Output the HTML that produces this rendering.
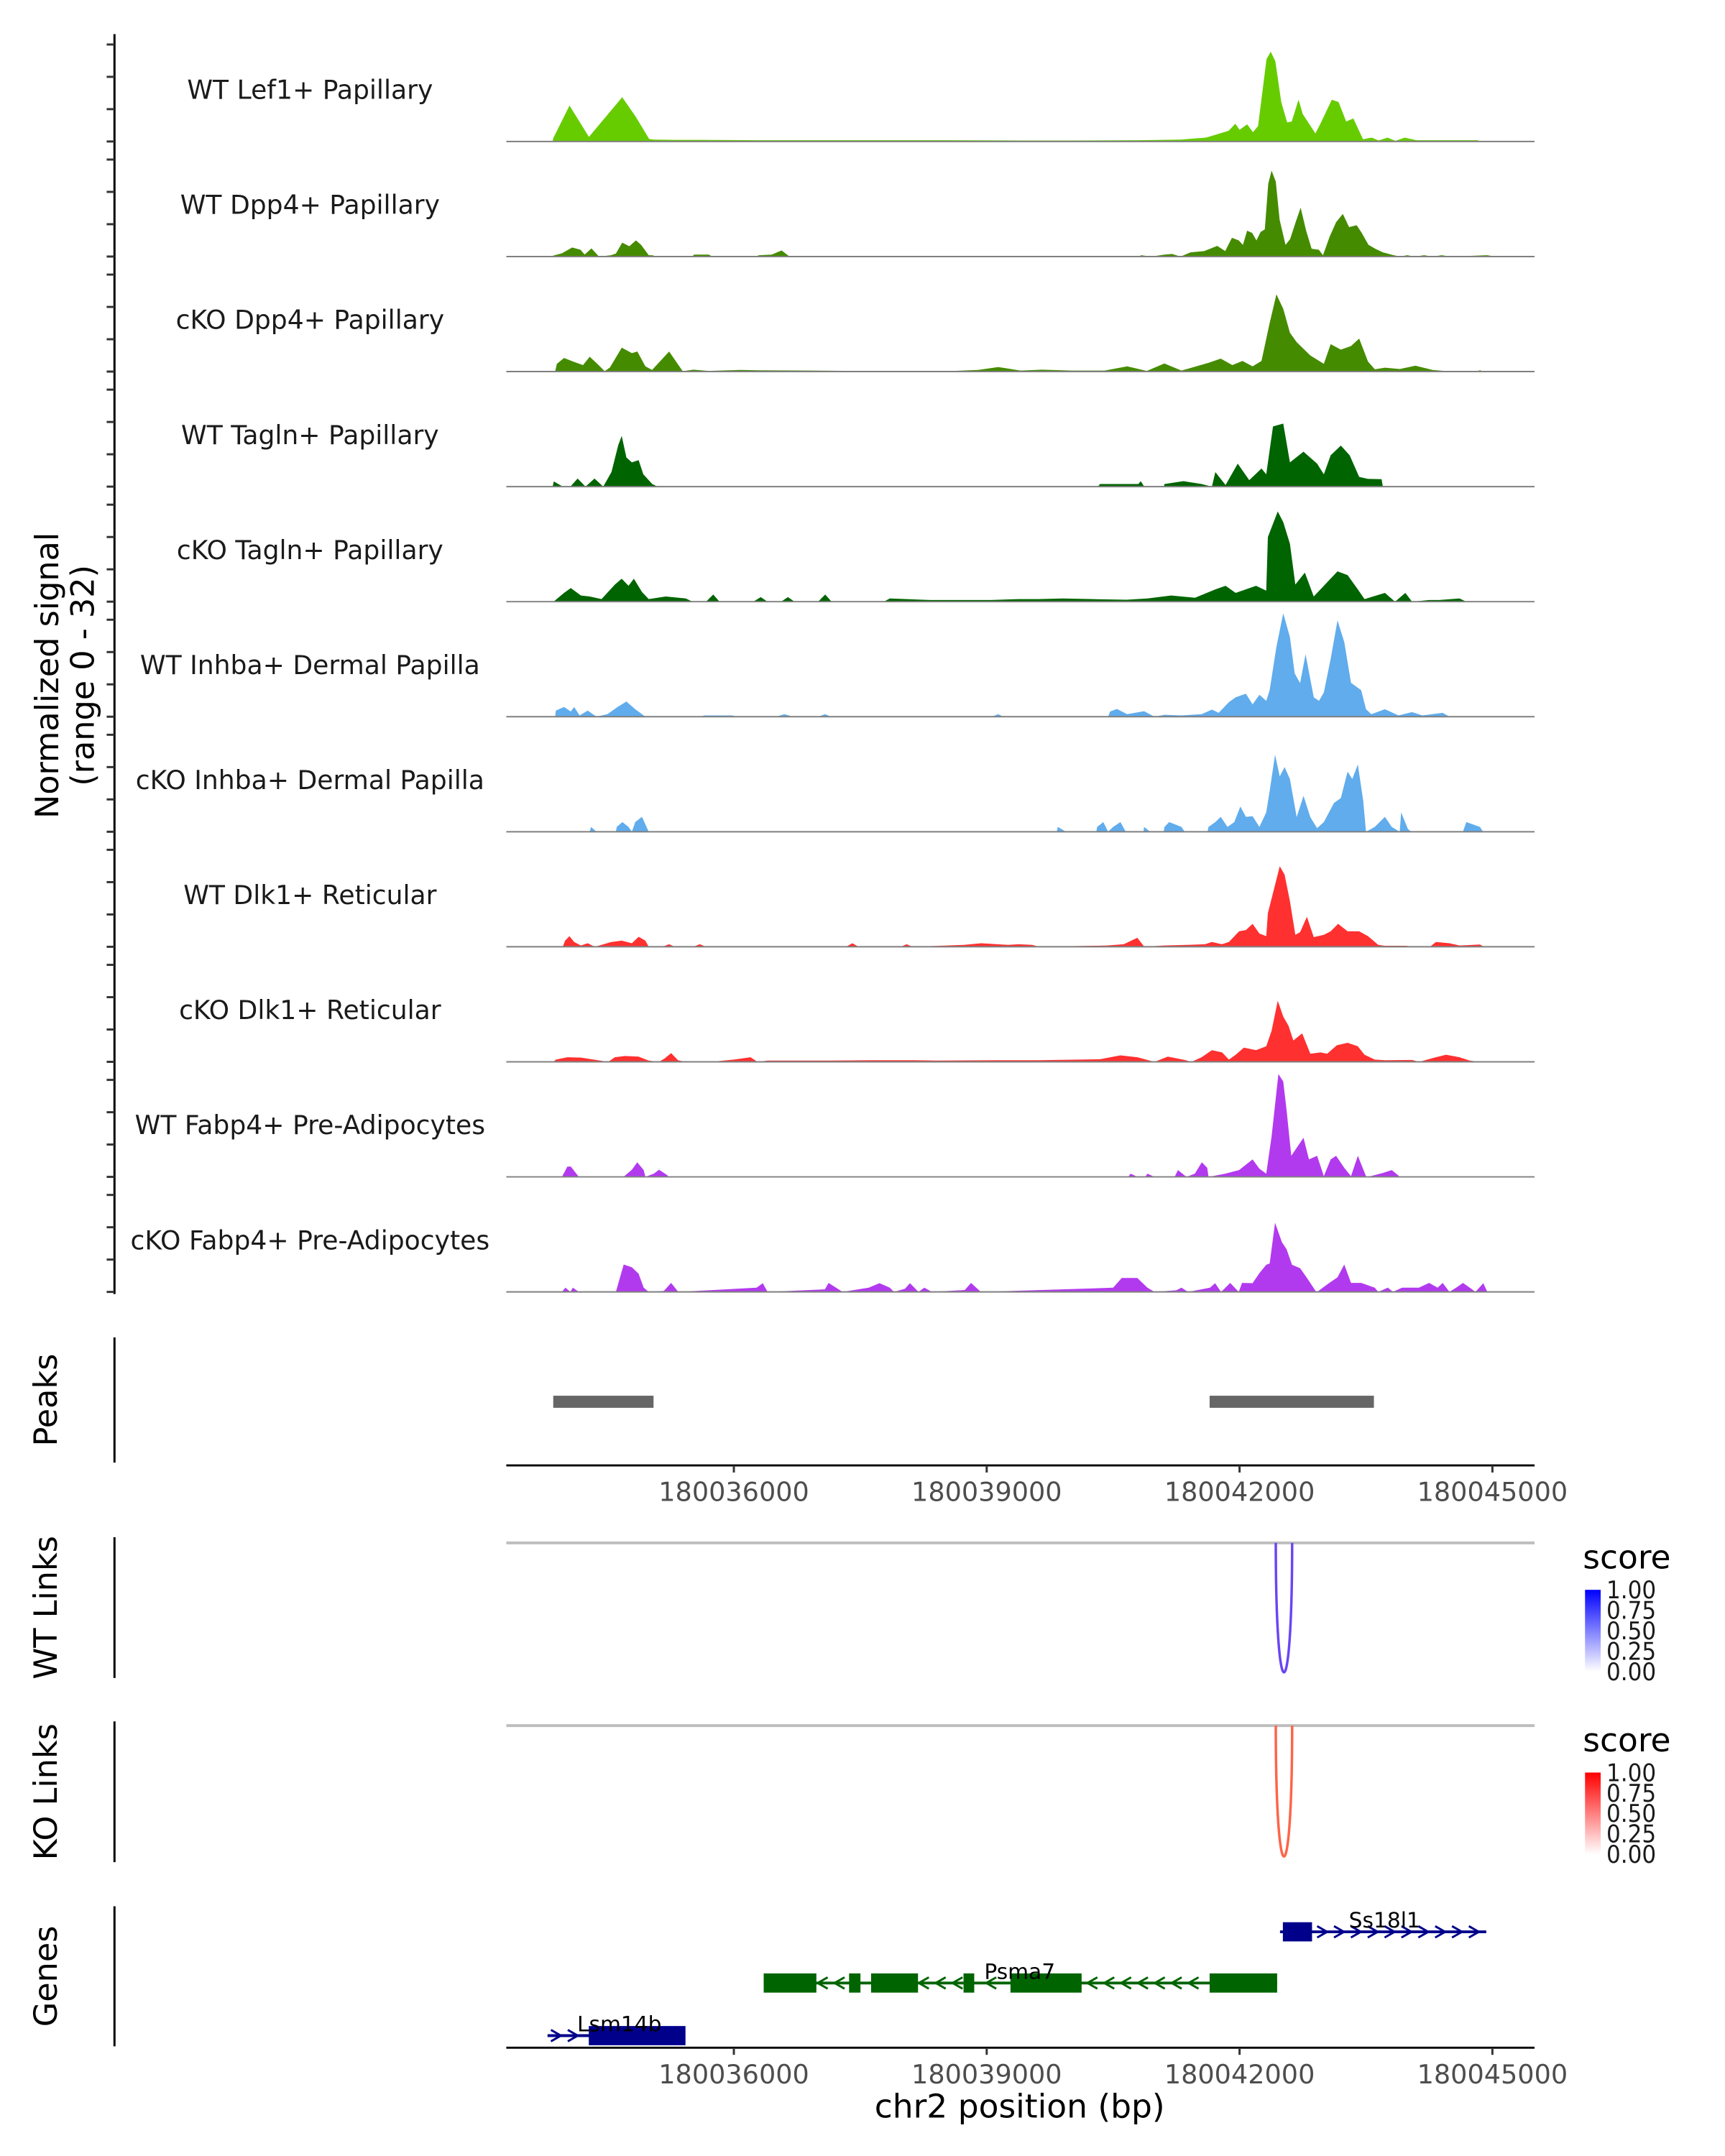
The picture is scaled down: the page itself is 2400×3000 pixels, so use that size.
<!DOCTYPE html>
<html><head><meta charset="utf-8"><style>
html,body{margin:0;padding:0;background:#fff;}
svg{display:block;font-family:"DejaVu Sans","Liberation Sans",sans-serif;}
</style></head><body>
<svg id="chart" width="2400" height="3000" viewBox="0 0 2400 3000" xmlns="http://www.w3.org/2000/svg">
<defs>
<linearGradient id="gradWT" x1="0" y1="1" x2="0" y2="0"><stop offset="0" stop-color="#ffffff"/><stop offset="1" stop-color="#0000ff"/></linearGradient>
<linearGradient id="gradKO" x1="0" y1="1" x2="0" y2="0"><stop offset="0" stop-color="#ffffff"/><stop offset="1" stop-color="#ff0000"/></linearGradient>
</defs>
<g id="root" transform="scale(0.98935)">
<g id="tracks"></g>
<g id="left-axis"></g>
<text transform="translate(82,950) rotate(-90)" text-anchor="middle" font-size="45" fill="#000">Normalized signal</text>
<text transform="translate(132,950) rotate(-90)" text-anchor="middle" font-size="45" fill="#000">(range 0 - 32)</text>
<g id="peaks"></g>
<g id="links"></g>
<g id="genes"></g>
</g>
</svg>
<script>
// ---- data ----
const regionStart = 180033300;
const regionEnd = 180045500;
const baseBp = 180000000;
const trackNames = ["WT Lef1+ Papillary","WT Dpp4+ Papillary","cKO Dpp4+ Papillary","WT Tagln+ Papillary","cKO Tagln+ Papillary","WT Inhba+ Dermal Papilla","cKO Inhba+ Dermal Papilla","WT Dlk1+ Reticular","cKO Dlk1+ Reticular","WT Fabp4+ Pre-Adipocytes","cKO Fabp4+ Pre-Adipocytes"];
const trackColors = ["#66cc00","#458b00","#458b00","#006400","#006400","#60acec","#60acec","#ff3030","#ff3030","#b23aee","#b23aee"];
const yMax = 32;
const xTicks = [180036000,180039000,180042000,180045000];
const yTickValues = [0,10,20,30];

const wtLef1 = [[33850,0],[33857,1],[34050,11.1],[34280,1.4],[34675,13.7],[34835,7.7],[34995,0.8],[35050,0.6],[35300,0.5],[35600,0.5],[36300,0.4],[36700,0.4],[37500,0.4],[38500,0.4],[39400,0.3],[40000,0.3],[40792,0.4],[41300,0.6],[41602,1.2],[41870,3.3],[41950,5.5],[42000,3.6],[42090,5.3],[42160,2.9],[42220,4.8],[42320,25.5],[42370,27.8],[42425,24.8],[42495,12.2],[42565,5.9],[42620,6.2],[42700,12.9],[42750,8.5],[42900,2.5],[42960,5.5],[43095,12.9],[43175,12.2],[43265,6.2],[43350,7.1],[43465,0.7],[43570,1.2],[43650,0.3],[43755,1.2],[43850,0.2],[43960,1.2],[44100,0.4],[44830,0.4],[44840,0]];
const wtDpp4 = [[33850,0],[33857,0.3],[33960,1],[34081,2.8],[34180,2.1],[34230,0.6],[34310,2.5],[34400,0],[34540,0.4],[34600,0.9],[34675,4.3],[34760,3.2],[34838,5],[34900,3.6],[34990,0.4],[35028,0.4],[35100,0],[35500,0],[35531,0.6],[35700,0.6],[35750,0],[36250,0],[36300,0.4],[36450,0.6],[36566,1.9],[36640,0.4],[36660,0],[40800,0],[40835,0.4],[40950,0],[41110,0.6],[41200,0.8],[41300,0],[41420,1.3],[41580,1.7],[41735,3.3],[41830,1.7],[41870,3.8],[41910,5.8],[41990,5],[42040,3.6],[42090,8],[42150,7.3],[42200,5],[42250,7.6],[42300,8.4],[42340,22.5],[42380,26.6],[42430,23.2],[42475,11.4],[42545,3.6],[42600,5.4],[42665,10.6],[42725,15.1],[42790,8],[42855,2.4],[42940,2.1],[42990,0.4],[43070,6.2],[43145,10.6],[43225,13.2],[43300,9.1],[43390,9.7],[43450,7.3],[43530,3.6],[43610,2.4],[43700,1.3],[43800,0.6],[43900,0],[43990,0.4],[44080,0],[44190,0.4],[44290,0],[44400,0.4],[44500,0],[44935,0.4],[45050,0]];
const ckoDpp4 = [[33880,0],[33900,2.4],[33985,4.2],[34105,3],[34210,2],[34290,4.6],[34380,2.4],[34468,0.1],[34530,1.3],[34670,7.4],[34790,5.7],[34855,6.2],[34950,1.6],[35030,0.5],[35232,6.2],[35393,0.1],[35520,0.6],[35700,0.2],[36078,0.5],[36300,0.4],[36900,0.3],[37450,0.2],[38600,0.2],[38900,0.5],[39136,1.4],[39400,0.3],[39660,0.6],[40000,0.3],[40400,0.3],[40666,1.6],[40900,0.2],[41108,2.5],[41310,0.3],[41632,2.7],[41777,4],[41914,2],[42035,3.3],[42155,1.6],[42260,3.3],[42357,15],[42437,23.9],[42518,19.4],[42598,12],[42678,9.1],[42840,5],[43000,2.4],[43081,8.5],[43202,6.8],[43322,7.9],[43419,10.2],[43524,3.1],[43605,0.7],[43725,1.2],[43900,0.8],[44087,1.8],[44290,0.5],[44520,0],[44800,0],[44852,0.4],[44900,0]];
const wtTagln = [[33850,0],[33864,1.6],[33970,0],[34060,0],[34146,2.5],[34240,0],[34347,2.5],[34450,0],[34548,4.5],[34628,12.8],[34669,15.7],[34725,9],[34790,7.5],[34870,8.2],[34926,3.8],[35031,0.8],[35095,0],[40320,0],[40344,0.8],[40800,0.8],[40827,1.7],[40870,0],[41100,0],[41110,0.8],[41334,1.7],[41550,0.8],[41672,0],[41713,4.5],[41834,0.5],[41978,7.1],[42115,2],[42260,5.6],[42317,3.8],[42397,18.6],[42518,19.5],[42598,7.5],[42759,10.8],[42920,7.1],[43000,3.8],[43081,9.7],[43202,12.7],[43306,9.7],[43419,3],[43524,2.4],[43685,2.3],[43700,0]];
const ckoTagln = [[33860,0],[33985,2.7],[34065,4.2],[34185,1.9],[34290,1.6],[34430,0.8],[34588,5.3],[34669,7.1],[34750,4.9],[34814,7.1],[34910,3],[34990,0.8],[35192,1.6],[35430,1],[35510,0],[35670,0],[35755,2.2],[35830,0],[36230,0],[36319,1.4],[36400,0],[36560,0],[36641,1.4],[36720,0],[37000,0],[37084,2.2],[37160,0],[37780,0],[37849,1],[38330,0.5],[38650,0.5],[39050,0.5],[39378,0.8],[39620,0.8],[39901,1],[40260,0.8],[40660,0.6],[40907,1],[41189,1.9],[41471,1.2],[41713,3.8],[41834,4.9],[41954,2.7],[42196,4.9],[42317,3.4],[42336,20],[42453,27.9],[42518,24.6],[42598,17.9],[42662,5.3],[42775,9],[42880,1.6],[43000,4.9],[43162,9.4],[43282,8.2],[43403,3.8],[43483,0.8],[43725,2.7],[43845,0],[43967,2.7],[44047,0],[44250,0.5],[44370,0.5],[44610,1],[44690,0]];
const wtInhba = [[33880,0],[33888,1.9],[33985,3],[34065,1.6],[34105,3],[34170,0.4],[34266,1.9],[34370,0],[34500,0.8],[34620,3],[34725,4.7],[34830,2.3],[34910,0.8],[34950,0],[35600,0],[35650,0.4],[35980,0.4],[36050,0],[36500,0],[36600,0.8],[36700,0],[37000,0],[37084,0.8],[37150,0],[39060,0],[39136,0.8],[39200,0],[40440,0],[40465,1.6],[40545,2.4],[40666,0.8],[40867,1.7],[40990,0],[41110,0.6],[41310,0.4],[41550,0.8],[41672,2.2],[41752,1.2],[41874,4.5],[41954,6],[42075,7.1],[42155,3.8],[42236,6.8],[42317,4.9],[42357,8.2],[42437,21.6],[42518,32],[42598,24.6],[42654,13.4],[42718,10.4],[42783,19.3],[42880,6],[42943,4.9],[43000,7.5],[43081,17.9],[43162,29.8],[43242,23.1],[43322,10.5],[43443,8.2],[43500,2.3],[43564,0.8],[43725,2.3],[43886,0.4],[44047,1.4],[44170,0.4],[44410,1.2],[44490,0]];
const ckoInhba = [[34290,0],[34306,1.5],[34370,0],[34600,0],[34610,1.5],[34677,3],[34750,1.5],[34790,0],[34830,3],[34910,4.6],[34990,0],[39830,0],[39845,1.5],[39940,0],[40300,0],[40310,1.5],[40384,3],[40440,0],[40500,1.5],[40586,3],[40650,0],[40860,0],[40867,1.5],[40940,0],[41100,0],[41109,1.5],[41165,3],[41310,1.5],[41350,0],[41620,0],[41632,1.5],[41713,3],[41777,4.6],[41857,1.5],[41938,3],[42010,7.8],[42075,4.6],[42155,4.8],[42236,1.5],[42317,6],[42357,12.6],[42421,23.8],[42477,17.1],[42534,20],[42598,16.3],[42678,4.5],[42759,11.1],[42840,4.5],[42920,1.1],[43000,3],[43121,8.9],[43202,10.4],[43282,18.6],[43338,16.3],[43403,20.8],[43467,9.7],[43500,0],[43604,1.5],[43725,4.6],[43806,1.5],[43900,0],[43917,6],[43998,0.8],[44040,0],[44650,0],[44691,3],[44852,1.5],[44890,0]];
const wtDlk1 = [[33970,0],[33998,1.9],[34049,3.3],[34105,1.5],[34185,0.4],[34266,1.1],[34350,0],[34548,1.5],[34669,1.9],[34790,1.1],[34870,3.1],[34950,1.9],[34990,0],[35150,0],[35232,0.8],[35300,0],[35520,0],[35595,0.8],[35670,0],[37330,0],[37406,1.1],[37480,0],[37980,0],[38050,0.8],[38120,0],[38530,0.4],[38730,0.6],[38935,1.1],[39255,0.6],[39378,0.8],[39540,0.6],[39620,0],[40425,0.4],[40626,0.8],[40787,2.8],[40870,0],[41100,0.4],[41390,0.6],[41590,0.8],[41672,1.5],[41790,0.8],[41874,1.5],[41994,4.8],[42075,5.2],[42155,7.1],[42236,4.1],[42317,3.3],[42336,10.4],[42477,24.9],[42534,22.3],[42598,14.1],[42662,3.7],[42718,4.5],[42799,9.3],[42880,3],[43000,3.7],[43081,4.8],[43170,7.1],[43282,4.8],[43419,4.8],[43524,3.3],[43645,0.6],[43725,0.3],[43967,0.3],[44100,0],[44260,0],[44330,1.5],[44490,1.1],[44610,0.4],[44852,0.7],[44900,0]];
const ckoDlk1 = [[33860,0],[33888,0.7],[34025,1.4],[34185,1.3],[34387,0.5],[34508,0],[34588,1.4],[34709,1.8],[34870,1.6],[34990,0.4],[35110,0],[35176,1],[35256,2.7],[35337,0.5],[35430,0],[35550,0.2],[35800,0.2],[36000,0.7],[36198,1.4],[36280,0],[36400,0.4],[37124,0.4],[37647,0.5],[38130,0.5],[38412,0.4],[39136,0.5],[39338,0.5],[39620,0.5],[39820,0.6],[40100,0.7],[40344,0.8],[40586,2],[40787,1.4],[40990,0],[41149,1.6],[41350,0.6],[41430,0],[41550,1.4],[41672,3.6],[41793,2.9],[41874,0.7],[41954,2.2],[42051,4.4],[42196,3.6],[42317,4.8],[42380,9.6],[42453,18.9],[42518,14],[42582,11.1],[42638,6.6],[42743,8.8],[42840,2.5],[42960,2.9],[43040,2.5],[43154,5.1],[43282,5.9],[43403,4.8],[43483,2.2],[43604,0.7],[43725,0.5],[44047,0.6],[44130,0],[44330,1.4],[44450,2.2],[44610,1.4],[44731,0.4],[44850,0]];
const wtFabp4 = [[33960,0],[34025,3.2],[34065,3.2],[34145,0.5],[34160,0],[34690,0],[34790,2.2],[34854,4.5],[34930,2.1],[34950,0],[35050,1],[35112,2.2],[35210,0.5],[35225,0],[40680,0],[40707,1],[40790,0],[40880,0],[40908,1],[40990,0],[41230,0],[41269,2.1],[41370,0],[41470,1],[41552,4.5],[41616,2.8],[41632,0],[41830,1],[41994,2.1],[42155,5.4],[42236,2.5],[42317,1],[42380,12.5],[42461,31.8],[42518,29.5],[42558,20.6],[42614,6.5],[42759,12.1],[42824,5.4],[42920,6.5],[43000,0.2],[43081,5.4],[43145,6.5],[43242,2.8],[43322,0.2],[43403,6.5],[43500,0.2],[43525,0],[43700,1.2],[43806,2.1],[43880,0.5],[43900,0]];
const ckoFabp4 = [[33960,0],[34001,1.3],[34060,0],[34090,1.3],[34160,0],[34600,0],[34693,8.5],[34790,7.6],[34870,5.6],[34930,1.3],[34990,0],[35170,0.3],[35256,2.8],[35340,0],[36270,1.3],[36343,2.7],[36400,0],[37080,0.8],[37124,2.8],[37290,0],[37600,1.3],[37728,2.7],[37850,1.3],[37900,0],[38030,1],[38090,2.7],[38190,0],[38260,1.3],[38350,0],[38740,0.6],[38814,2.8],[38930,0],[40500,1.3],[40602,4.3],[40666,4.3],[40787,4.3],[40907,1.3],[40990,0],[41250,0.5],[41310,1.3],[41390,0],[41650,1.3],[41710,2.7],[41780,0],[41820,1],[41889,2.8],[41990,0],[42030,2.8],[42155,2.7],[42236,5.8],[42317,8.4],[42357,8.8],[42421,21.4],[42502,15.4],[42558,13.2],[42622,8.4],[42719,7.3],[42800,4.3],[42905,0.2],[42920,0],[43065,2.8],[43162,4.5],[43242,8.5],[43322,2.8],[43443,2.8],[43604,1.3],[43645,0],[43760,1.3],[43820,0],[43927,1.3],[44128,1.3],[44249,2.8],[44350,1.3],[44410,2.8],[44490,0],[44570,1.3],[44651,2.8],[44731,1.3],[44800,0],[44892,2.7],[44940,0]];
const trackData = [wtLef1,wtDpp4,ckoDpp4,wtTagln,ckoTagln,wtInhba,ckoInhba,wtDlk1,ckoDlk1,wtFabp4,ckoFabp4];

const peakRanges = [[180033857,180035047],[180041645,180043594]];
const wtLinks = [[180042430,180042624]];
const koLinks = [[180042430,180042624]];
const legendTicks = ["1.00","0.75","0.50","0.25","0.00"];
const geneNames = ["Ss18l1","Psma7","Lsm14b"];
const geneStrand = [1,-1,1];
const geneSpan = [[180042480,180044927],[180036354,180042446],[180033789,180035409]];
const geneExons = [
  [[180042514,180042860]],
  [[180036354,180036979],[180037367,180037502],[180037628,180038185],[180038725,180038852],[180039282,180040126],[180041645,180042446]],
  [[180034279,180035426]]
];
const geneColors = ["#00008b","#006400","#00008b"];

// ---- scales ----
const NS = "http://www.w3.org/2000/svg";
const plotX0 = 712, plotX1 = 2158;
function xScale(bp){ return plotX0 + (bp - regionStart) * (plotX1 - plotX0) / (regionEnd - regionStart); }
const firstBase = 199, trackStep = 161.8, trackRange = 145.5;
function yScale(i, v){ return firstBase + i*trackStep - v * trackRange / yMax; }
function mk(tag, attrs, parent){ const e = document.createElementNS(NS, tag); for (const k in attrs) e.setAttribute(k, attrs[k]); parent.appendChild(e); return e; }

// ---- coverage tracks ----
const gT = document.getElementById('tracks');
trackData.forEach((pts, i) => {
  const base = yScale(i, 0);
  let d = "M" + xScale(baseBp + pts[0][0]).toFixed(1) + "," + base.toFixed(1);
  pts.forEach(p => { d += "L" + xScale(baseBp + p[0]).toFixed(1) + "," + yScale(i, p[1]).toFixed(1); });
  d += "L" + xScale(baseBp + pts[pts.length-1][0]).toFixed(1) + "," + base.toFixed(1) + "Z";
  const area = mk('path', {d: d, fill: trackColors[i]}, gT);
  
  
  const bl = mk('line', {x1: plotX0, x2: plotX1, y1: base, y2: base, stroke: '#7f7f7f', 'stroke-width': 2}, gT);
  
  
  const lab = mk('text', {x: 436, y: base - 60, 'text-anchor': 'middle', 'font-size': 36.5, fill: '#1a1a1a'}, gT);
  lab.textContent = trackNames[i];
  
  
});

// ---- left axis ----
const gA = document.getElementById('left-axis');
const ax = mk('line', {x1: 161, x2: 161, y1: 48, y2: 1820, stroke: '#000', 'stroke-width': 3}, gA);


trackData.forEach((pts, i) => {
  yTickValues.forEach(v => {
    const y = yScale(i, v);
    const t = mk('line', {x1: 150, x2: 161, y1: y, y2: y, stroke: '#333', 'stroke-width': 3}, gA);
    
    
  });
});

// ---- helpers ----
function panelAxis(parent, name, y1, y2, label){
  const l = mk('line', {x1: 161, x2: 161, y1: y1, y2: y2, stroke: '#000', 'stroke-width': 3}, parent);
  
  
  const t = mk('text', {transform: 'translate(80,' + ((y1+y2)/2) + ') rotate(-90)', 'text-anchor': 'middle', 'font-size': 45, fill: '#000'}, parent);
  t.textContent = label;
  
  
}
function xAxis(parent, name, y){
  const l = mk('line', {x1: plotX0, x2: plotX1, y1: y, y2: y, stroke: '#000', 'stroke-width': 3}, parent);
  
  
  xTicks.forEach(v => {
    const x = xScale(v);
    const tk = mk('line', {x1: x, x2: x, y1: y, y2: y + 10, stroke: '#333', 'stroke-width': 3}, parent);
    
    
    const tl = mk('text', {x: x, y: y + 50, 'text-anchor': 'middle', 'font-size': 37, fill: '#4d4d4d'}, parent);
    tl.textContent = String(v);
    
    
  });
}

// ---- peaks ----
const gP = document.getElementById('peaks');
panelAxis(gP, 'peaks', 1881, 2057, 'Peaks');
peakRanges.forEach(r => {
  const x1 = xScale(r[0]), x2 = xScale(r[1]);
  const rc = mk('rect', {x: x1, y: 1963, width: x2 - x1, height: 17, fill: '#666666'}, gP);
  
  
});
xAxis(gP, 'peaks', 2061);

// ---- links ----
const gL = document.getElementById('links');
function linkPanel(name, label, y1, y2, top, bottom, links, color, grad){
  panelAxis(gL, name, y1, y2, label);
  const bl = mk('line', {x1: plotX0, x2: plotX1, y1: top, y2: top, stroke: '#bebebe', 'stroke-width': 4}, gL);
  
  
  links.forEach(lk => {
    const a = xScale(lk[0]), b = xScale(lk[1]);
    const c = top + (bottom - top) / 0.75;
    const p = mk('path', {d: `M${a},${top} C${a},${c} ${b},${c} ${b},${top}`, fill: 'none', stroke: color, 'stroke-width': 3.5}, gL);
    
    
  });
  const st = mk('text', {x: 2226, y: top + 36, 'font-size': 46, fill: '#000'}, gL);
  st.textContent = 'score';
  
  
  const cbTop = top + 66, cbH = 115;
  const cb = mk('rect', {x: 2229, y: cbTop, width: 22, height: cbH, fill: 'url(#' + grad + ')'}, gL);
  
  
  legendTicks.forEach((t, k) => {
    const y = cbTop + k * cbH / (legendTicks.length - 1);
    const tx = mk('text', {x: 2259, y: y + 12, 'font-size': 34, textLength: 70, lengthAdjust: 'spacingAndGlyphs', fill: '#1a1a1a'}, gL);
    tx.textContent = t;
    
    
  });
}
linkPanel('wt-links', 'WT Links', 2162, 2360, 2170, 2352, wtLinks, '#6a45f5', 'gradWT');
linkPanel('ko-links', 'KO Links', 2421, 2619, 2427, 2611, koLinks, '#ff6448', 'gradKO');

// ---- genes ----
const gG = document.getElementById('genes');
panelAxis(gG, 'genes', 2681, 2878, 'Genes');
const geneY = [2717, 2789, 2863];
const labelX = [1947, 1434, 871];
geneNames.forEach((g, i) => {
  const y = geneY[i], col = geneColors[i];
  const x1 = xScale(geneSpan[i][0]), x2 = xScale(geneSpan[i][1]);
  const ln = mk('line', {x1: x1, x2: x2, y1: y, y2: y, stroke: col, 'stroke-width': 4}, gG);
  
  
  for (let bp = geneSpan[i][0] + 100; bp < geneSpan[i][1]; bp += 200) {
    const inExon = geneExons[i].some(e => bp >= e[0] - 60 && bp <= e[1] + 60);
    if (inExon) continue;
    const x = xScale(bp), s = geneStrand[i] * 7;
    const ch = mk('path', {d: `M${x - s},${y - 8} L${x + s},${y} L${x - s},${y + 8}`, fill: 'none', stroke: col, 'stroke-width': 3}, gG);
    
    
  }
  geneExons[i].forEach(e => {
    const a = xScale(e[0]), b = xScale(e[1]);
    const r = mk('rect', {x: a, y: y - 13.5, width: b - a, height: 27, fill: col}, gG);
    
    
  });
  const t = mk('text', {x: labelX[i], y: y - 6, 'text-anchor': 'middle', 'font-size': 30, fill: '#000'}, gG);
  t.textContent = g;
  
  
});
xAxis(gG, 'genes', 2880);
const xt = mk('text', {x: 1434, y: 2978, 'text-anchor': 'middle', 'font-size': 46, fill: '#000'}, gG);
xt.textContent = 'chr2 position (bp)';


</script>
</body></html>
